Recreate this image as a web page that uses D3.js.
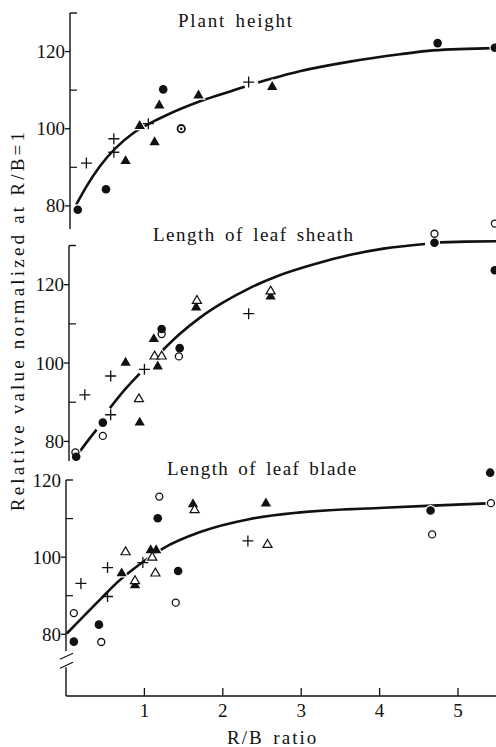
<!DOCTYPE html>
<html>
<head>
<meta charset="utf-8">
<script src="https://cdn.jsdelivr.net/npm/d3@7"></script>
<style>
  body { margin: 0; background: #fff; }
  svg { display: block; }
  svg text { font-family: Liberation Serif, Tinos, Times New Roman, DejaVu Serif, serif; }
</style>
</head>
<body>
<div id="chart"></div>
<script>
// values: [R/B ratio, relative value]
const xTicks = [1, 2, 3, 4, 5];

// Plant height
const heightCurve = [[0.13, 80.3], [0.26, 85.0], [0.43, 90.2], [0.86, 98.9], [1.07, 101.4], [1.28, 103.5], [1.71, 107.1], [2.13, 109.9], [2.28, 110.9], null,
  [2.45, 112.0], [2.98, 114.9], [3.62, 117.4], [4.26, 119.3], [4.68, 120.3], [5.47, 120.9]];
const heightFilledCircle = [[0.15, 79.0], [0.51, 84.3], [1.24, 110.2], [4.74, 122.2], [5.47, 121.0]];
const heightDotCircle = [[1.47, 100.0]];
const heightPlus = [[0.26, 91.1], [0.61, 97.4], [0.61, 93.9], [1.05, 101.3], [2.33, 112.1]];
const heightFilledTri = [[0.76, 91.6], [0.94, 100.7], [1.13, 96.5], [1.19, 106.0], [1.69, 108.6], [2.63, 110.8]];

// Length of leaf sheath
const sheathCurve = [[0.16, 77.0], [0.28, 80.2], [0.39, 83.0], null,
  [0.56, 88.5], [0.75, 93.2], [0.94, 97.3], null,
  [1.22, 103.0], [1.45, 107.4], [1.71, 111.6], [2.0, 115.4], [2.33, 119.0], [2.7, 122.2], [3.2, 125.4], [3.6, 127.5], [4.05, 129.2], [4.58, 130.4], null,
  [4.77, 130.8], [5.1, 131.0], [5.49, 131.1]];
const sheathOpenCircle = [[0.12, 77.2], [0.47, 81.4], [1.22, 107.4], [1.44, 101.7], [4.70, 133.0], [5.47, 135.6]];
const sheathFilledCircle = [[0.13, 76.1], [0.47, 84.8], [1.22, 108.7], [1.45, 103.8], [4.70, 130.7], [5.47, 123.7]];
const sheathPlus = [[0.24, 91.9], [0.57, 96.7], [0.57, 86.8], [1.00, 98.4], [2.33, 112.6]];
const sheathFilledTri = [[0.76, 100.1], [0.94, 84.8], [1.12, 106.1], [1.17, 99.1], [1.66, 114.2], [2.61, 117.0]];
const sheathOpenTri = [[0.93, 90.8], [1.13, 101.7], [1.22, 101.7], [1.67, 115.9], [2.61, 118.3]];

// Length of leaf blade
const bladeCurve = [[0.01, 80.2], [0.22, 84.6], [0.44, 89.1], [0.65, 93.4], [0.95, 98.3], [1.24, 102.3], [1.71, 106.5], [2.35, 109.9], [2.99, 111.6], [4.05, 112.8], [4.60, 113.3], [5.45, 114.0]];
const bladeOpenCircle = [[0.10, 85.5], [0.45, 78.0], [1.19, 115.7], [1.40, 88.2], [4.67, 105.9], [5.42, 114.0]];
const bladeFilledCircle = [[0.10, 78.1], [0.42, 82.5], [1.17, 110.1], [1.43, 96.4], [4.65, 112.1], [5.41, 121.9]];
const bladePlus = [[0.19, 93.2], [0.53, 97.3], [0.53, 89.8], [0.98, 98.6], [2.32, 104.2]];
const bladeFilledTri = [[0.71, 95.8], [0.88, 92.7], [1.08, 101.8], [1.15, 101.8], [1.62, 113.7], [2.55, 113.9]];
const bladeOpenTri = [[0.76, 101.3], [0.88, 93.8], [1.10, 99.9], [1.14, 95.8], [1.64, 112.2], [2.57, 103.2]];

const W = 496, H = 747;
const xAxisY = 696;
const ink = "#111";

const x = d3.scaleLinear().domain([0, 5.5]).range([66, 66 + 78.4 * 5.5]);

const panels = [
  { title: "Plant height", tx: 178, ty: 27, spacing: 1.8, domain: [74, 130], range: [229, 13], top: 130, bottom: 74, shift: 4,
    major: [80, 100, 120], minor: [90, 110], curve: heightCurve,
    filledCircle: heightFilledCircle, dotCircle: heightDotCircle, plus: heightPlus, filledTri: heightFilledTri },
  { title: "Length of leaf sheath", tx: 153, ty: 241, spacing: 1.5, domain: [75, 130], range: [461, 245.5], top: 130, bottom: 75, shift: 3,
    major: [80, 100, 120], minor: [90, 110], curve: sheathCurve,
    openCircle: sheathOpenCircle, filledCircle: sheathFilledCircle, plus: sheathPlus, filledTri: sheathFilledTri, openTri: sheathOpenTri },
  { title: "Length of leaf blade", tx: 167, ty: 475, spacing: 1.4, domain: [80, 120], range: [634.3, 480], top: 120, bottom: 75.6, shift: 0,
    major: [80, 100], minor: [90, 110], curve: bladeCurve, broken: true,
    openCircle: bladeOpenCircle, filledCircle: bladeFilledCircle, plus: bladePlus, filledTri: bladeFilledTri, openTri: bladeOpenTri }
];

const svg = d3.select("#chart").append("svg")
  .attr("width", W).attr("height", H);

const tri = d3.symbol().type(d3.symbolTriangle).size(46);

panels.forEach(p => {
  const y = d3.scaleLinear().domain(p.domain).range(p.range);
  const ax = x(0) + p.shift;
  const g = svg.append("g");

  // y axis line with a cap at the top
  g.append("line")
    .attr("x1", ax).attr("x2", ax)
    .attr("y1", y(p.top)).attr("y2", y(p.bottom))
    .attr("stroke", ink).attr("stroke-width", 1.4);
  g.append("line")
    .attr("x1", ax).attr("x2", ax + 7)
    .attr("y1", y(p.top)).attr("y2", y(p.top))
    .attr("stroke", ink).attr("stroke-width", 1.4);

  p.major.forEach(v => {
    g.append("line")
      .attr("x1", ax - 5).attr("x2", ax)
      .attr("y1", y(v)).attr("y2", y(v))
      .attr("stroke", ink).attr("stroke-width", 1.3);
  });
  p.minor.forEach(v => {
    g.append("line")
      .attr("x1", ax).attr("x2", ax + 7)
      .attr("y1", y(v)).attr("y2", y(v))
      .attr("stroke", ink).attr("stroke-width", 1.2);
  });
  const labelled = p.major.concat(p.top === 120 ? [120] : []);
  labelled.forEach(v => {
    g.append("text")
      .attr("x", ax - 5).attr("y", y(v) + 6.5)
      .attr("text-anchor", "end")
      .attr("font-size", 19)
      .attr("fill", ink)
      .text(v);
  });

  g.append("text")
    .attr("x", p.tx).attr("y", p.ty)
    .attr("font-size", 19)
    .attr("fill", ink)
    .attr("letter-spacing", p.spacing + "px")
    .attr("word-spacing", "3px")
    .text(p.title);

  // fitted curve
  const line = d3.line()
    .defined(d => d !== null)
    .x(d => x(d[0])).y(d => y(d[1]))
    .curve(d3.curveMonotoneX);
  g.append("path")
    .datum(p.curve)
    .attr("d", line)
    .attr("fill", "none")
    .attr("stroke", ink)
    .attr("stroke-width", 2.6);

  // white halos so the curve breaks round the markers
  const halo = g.append("g").attr("fill", "#fff").attr("stroke", "#fff").attr("stroke-width", 2.5);
  [].concat(p.openCircle || [], p.filledCircle || [], p.dotCircle || []).forEach(d => {
    halo.append("circle").attr("cx", x(d[0])).attr("cy", y(d[1])).attr("r", 4.2);
  });
  [].concat(p.openTri || [], p.filledTri || []).forEach(d => {
    halo.append("path").attr("d", tri).attr("transform", `translate(${x(d[0])},${y(d[1])})`);
  });

  g.selectAll(".oc").data(p.openCircle || []).enter().append("circle")
    .attr("cx", d => x(d[0])).attr("cy", d => y(d[1])).attr("r", 3.5)
    .attr("fill", "#fff").attr("stroke", ink).attr("stroke-width", 1.3);

  g.selectAll(".fc").data(p.filledCircle || []).enter().append("circle")
    .attr("cx", d => x(d[0])).attr("cy", d => y(d[1])).attr("r", 4.3)
    .attr("fill", ink);

  (p.dotCircle || []).forEach(d => {
    g.append("circle").attr("cx", x(d[0])).attr("cy", y(d[1])).attr("r", 3.7)
      .attr("fill", "#fff").attr("stroke", ink).attr("stroke-width", 1.8);
    g.append("circle").attr("cx", x(d[0])).attr("cy", y(d[1])).attr("r", 1.3)
      .attr("fill", ink);
  });

  g.selectAll(".ft").data(p.filledTri || []).enter().append("path")
    .attr("d", tri)
    .attr("transform", d => `translate(${x(d[0])},${y(d[1])})`)
    .attr("fill", ink);

  g.selectAll(".ot").data(p.openTri || []).enter().append("path")
    .attr("d", d3.symbol().type(d3.symbolTriangle).size(36))
    .attr("transform", d => `translate(${x(d[0])},${y(d[1])})`)
    .attr("fill", "#fff").attr("stroke", ink).attr("stroke-width", 1.2);

  g.selectAll(".pl").data(p.plus || []).enter().append("path")
    .attr("d", "M-5.5,0H5.5M0,-5.5V5.5")
    .attr("transform", d => `translate(${x(d[0])},${y(d[1])})`)
    .attr("stroke", ink).attr("stroke-width", 1.3);

  if (p.broken) {
    // axis break down to the R/B axis
    const yb = y(p.bottom);
    g.append("line").attr("x1", ax).attr("x2", ax)
      .attr("y1", yb + 16).attr("y2", xAxisY)
      .attr("stroke", ink).attr("stroke-width", 1.4);
    [yb + 5, yb + 14].forEach(c => {
      g.append("line")
        .attr("x1", ax - 6).attr("x2", ax + 7)
        .attr("y1", c + 3).attr("y2", c - 3)
        .attr("stroke", ink).attr("stroke-width", 1.2);
    });
  }
});

// R/B axis
svg.append("line")
  .attr("x1", x(0)).attr("x2", W)
  .attr("y1", xAxisY).attr("y2", xAxisY)
  .attr("stroke", ink).attr("stroke-width", 1.5);
xTicks.forEach(t => {
  svg.append("line")
    .attr("x1", x(t)).attr("x2", x(t))
    .attr("y1", xAxisY).attr("y2", xAxisY - 8)
    .attr("stroke", ink).attr("stroke-width", 1.3);
  svg.append("text")
    .attr("x", x(t)).attr("y", xAxisY + 21)
    .attr("text-anchor", "middle")
    .attr("font-size", 19)
    .attr("fill", ink)
    .text(t);
});

svg.append("text")
  .attr("x", 227).attr("y", 744)
  .attr("font-size", 19)
  .attr("fill", ink)
  .attr("letter-spacing", "2px")
  .attr("word-spacing", "3px")
  .text("R/B ratio");

svg.append("text")
  .attr("transform", "translate(24,320) rotate(-90)")
  .attr("text-anchor", "middle")
  .attr("font-size", 19)
  .attr("fill", ink)
  .attr("letter-spacing", "3.2px")
  .text("Relative value normalized at R/B=1");
</script>
</body>
</html>
